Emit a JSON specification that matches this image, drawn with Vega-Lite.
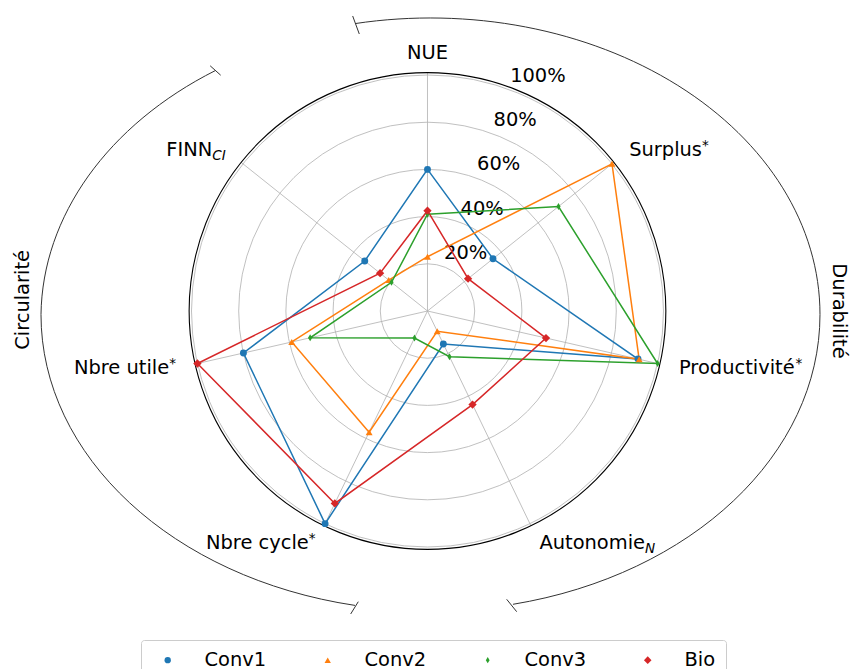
{
  "$schema": "https://vega.github.io/schema/vega-lite/v6.json",
  "width": 850,
  "height": 669,
  "autosize": {"type": "none"},
  "padding": 0,
  "background": "white",
  "config": {"view": {"stroke": null}, "font": "DejaVu Sans"},
  "datasets": {
    "scores": [
      {"series": "Conv1", "axis": "NUE", "value": 60},
      {"series": "Conv1", "axis": "Surplus", "value": 35.5},
      {"series": "Conv1", "axis": "Productivité", "value": 91.5},
      {"series": "Conv1", "axis": "Autonomie", "value": 15.5},
      {"series": "Conv1", "axis": "Nbre cycle", "value": 100},
      {"series": "Conv1", "axis": "Nbre utile", "value": 80},
      {"series": "Conv1", "axis": "FINN", "value": 34},
      {"series": "Conv2", "axis": "NUE", "value": 23},
      {"series": "Conv2", "axis": "Surplus", "value": 100},
      {"series": "Conv2", "axis": "Productivité", "value": 92},
      {"series": "Conv2", "axis": "Autonomie", "value": 9.5},
      {"series": "Conv2", "axis": "Nbre cycle", "value": 57},
      {"series": "Conv2", "axis": "Nbre utile", "value": 59},
      {"series": "Conv2", "axis": "FINN", "value": 21},
      {"series": "Conv3", "axis": "NUE", "value": 41},
      {"series": "Conv3", "axis": "Surplus", "value": 71},
      {"series": "Conv3", "axis": "Productivité", "value": 100},
      {"series": "Conv3", "axis": "Autonomie", "value": 21.5},
      {"series": "Conv3", "axis": "Nbre cycle", "value": 12.7},
      {"series": "Conv3", "axis": "Nbre utile", "value": 51},
      {"series": "Conv3", "axis": "FINN", "value": 19.5},
      {"series": "Bio", "axis": "NUE", "value": 42.5},
      {"series": "Bio", "axis": "Surplus", "value": 22},
      {"series": "Bio", "axis": "Productivité", "value": 51.5},
      {"series": "Bio", "axis": "Autonomie", "value": 44},
      {"series": "Bio", "axis": "Nbre cycle", "value": 90.5},
      {"series": "Bio", "axis": "Nbre utile", "value": 100},
      {"series": "Bio", "axis": "FINN", "value": 25.7}
    ],
    "axes": [
      {"axis": "NUE", "i": 0},
      {"axis": "Surplus", "i": 1},
      {"axis": "Productivité", "i": 2},
      {"axis": "Autonomie", "i": 3},
      {"axis": "Nbre cycle", "i": 4},
      {"axis": "Nbre utile", "i": 5},
      {"axis": "FINN", "i": 6}
    ],
    "rings": [
      {"v": 0.2, "label": "20%"},
      {"v": 0.4, "label": "40%"},
      {"v": 0.6, "label": "60%"},
      {"v": 0.8, "label": "80%"},
      {"v": 1.0, "label": "100%"}
    ]
  },
  "layer": [
    {
      "data": {"name": "rings"},
      "mark": {"type": "point", "shape": "circle", "filled": false, "opacity": 1, "stroke": "#b0b0b0", "strokeWidth": 0.8},
      "encoding": {
        "x": {"datum": 0, "type": "quantitative", "scale": {"domain": [-1.8114, 1.7903], "nice": false, "zero": false}, "axis": null},
        "y": {"datum": 0, "type": "quantitative", "scale": {"domain": [-1.5169, 1.3178], "nice": false, "zero": false}, "axis": null},
        "size": {"field": "v", "type": "quantitative", "scale": {"type": "pow", "exponent": 2, "domain": [0, 1], "range": [0, 222784], "zero": true}, "legend": null}
      }
    },
    {
      "data": {"name": "axes"},
      "transform": [
        {"calculate": "datum.i*2*PI/7", "as": "a"},
        {"calculate": "0", "as": "ox"},
        {"calculate": "1.01*sin(datum.a)", "as": "fx"},
        {"calculate": "1.01*cos(datum.a)", "as": "fy"}
      ],
      "mark": {"type": "rule", "stroke": "#b0b0b0", "strokeWidth": 0.8},
      "encoding": {
        "x": {"field": "ox", "type": "quantitative", "scale": {"domain": [-1.8114, 1.7903], "nice": false, "zero": false}, "axis": null},
        "y": {"field": "ox", "type": "quantitative", "scale": {"domain": [-1.5169, 1.3178], "nice": false, "zero": false}, "axis": null},
        "x2": {"field": "fx"},
        "y2": {"field": "fy"}
      }
    },
    {
      "data": {"name": "rings"},
      "transform": [{"filter": "datum.v == 1"}, {"calculate": "1.01", "as": "fr"}],
      "mark": {"type": "point", "shape": "circle", "filled": false, "opacity": 1, "stroke": "#000000", "strokeWidth": 1.1},
      "encoding": {
        "x": {"datum": 0, "type": "quantitative", "scale": {"domain": [-1.8114, 1.7903], "nice": false, "zero": false}, "axis": null},
        "y": {"datum": 0, "type": "quantitative", "scale": {"domain": [-1.5169, 1.3178], "nice": false, "zero": false}, "axis": null},
        "size": {"field": "fr", "type": "quantitative", "scale": {"type": "pow", "exponent": 2, "domain": [0, 1], "range": [0, 222784], "zero": true}, "legend": null}
      }
    },
    {
      "data": {"name": "rings"},
      "transform": [
        {"calculate": "datum.v*sin(20.5*PI/180)", "as": "lx"},
        {"calculate": "datum.v*cos(20.5*PI/180)", "as": "ly"}
      ],
      "mark": {"type": "text", "align": "left", "baseline": "bottom", "dy": -4, "font": "DejaVu Sans", "fontSize": 19.44, "color": "#000000"},
      "encoding": {
        "x": {"field": "lx", "type": "quantitative", "scale": {"domain": [-1.8114, 1.7903], "nice": false, "zero": false}, "axis": null},
        "y": {"field": "ly", "type": "quantitative", "scale": {"domain": [-1.5169, 1.3178], "nice": false, "zero": false}, "axis": null},
        "text": {"field": "label"}
      }
    },
    {
      "data": {"name": "scores"},
      "transform": [
        {"calculate": "indexof(['NUE','Surplus','Productivité','Autonomie','Nbre cycle','Nbre utile','FINN'], datum.axis)", "as": "i"},
        {"calculate": "datum.i*2*PI/7", "as": "a"},
        {"calculate": "datum.value/100*sin(datum.a)", "as": "px"},
        {"calculate": "datum.value/100*cos(datum.a)", "as": "py"}
      ],
      "mark": {"type": "line", "interpolate": "linear-closed", "strokeWidth": 1.5},
      "encoding": {
        "x": {"field": "px", "type": "quantitative", "scale": {"domain": [-1.8114, 1.7903], "nice": false, "zero": false}, "axis": null},
        "y": {"field": "py", "type": "quantitative", "scale": {"domain": [-1.5169, 1.3178], "nice": false, "zero": false}, "axis": null},
        "color": {"field": "series", "type": "nominal", "scale": {"domain": ["Conv1", "Conv2", "Conv3", "Bio"], "range": ["#1f77b4", "#ff7f0e", "#2ca02c", "#d62728"]}},
        "order": {"field": "i", "type": "quantitative"}
      }
    },
    {
      "data": {"name": "scores"},
      "transform": [
        {"calculate": "indexof(['NUE','Surplus','Productivité','Autonomie','Nbre cycle','Nbre utile','FINN'], datum.axis)", "as": "i"},
        {"calculate": "datum.i*2*PI/7", "as": "a"},
        {"calculate": "datum.value/100*sin(datum.a)", "as": "px"},
        {"calculate": "datum.value/100*cos(datum.a)", "as": "py"}
      ],
      "mark": {"type": "point", "filled": true, "size": 48, "opacity": 1, "strokeWidth": 0},
      "encoding": {
        "x": {"field": "px", "type": "quantitative", "scale": {"domain": [-1.8114, 1.7903], "nice": false, "zero": false}, "axis": null},
        "y": {"field": "py", "type": "quantitative", "scale": {"domain": [-1.5169, 1.3178], "nice": false, "zero": false}, "axis": null},
        "color": {
          "field": "series", "type": "nominal",
          "scale": {"domain": ["Conv1", "Conv2", "Conv3", "Bio"], "range": ["#1f77b4", "#ff7f0e", "#2ca02c", "#d62728"]},
          "legend": {
            "title": null, "orient": "none", "legendX": 141, "legendY": 640, "direction": "horizontal", "columns": 4,
            "columnPadding": 44, "padding": 10, "strokeColor": "#cccccc", "fillColor": "#ffffff", "cornerRadius": 3,
            "labelFont": "DejaVu Sans", "labelFontSize": 19.44, "labelColor": "#000000", "labelOffset": 27,
            "symbolOffset": 7, "symbolSize": 40, "symbolStrokeWidth": 0
          }
        },
        "shape": {
          "field": "series", "type": "nominal",
          "scale": {"domain": ["Conv1", "Conv2", "Conv3", "Bio"], "range": ["circle", "triangle-up", "M0,-1L0.6,0L0,1L-0.6,0Z", "M0,-1.2L1.2,0L0,1.2L-1.2,0Z"]},
          "legend": {"title": null}
        }
      }
    },
    {
      "data": {"name": "axes"},
      "transform": [
        {"calculate": "datum.i*2*PI/7", "as": "a"},
        {"calculate": "1.093*sin(datum.a)", "as": "lx"},
        {"calculate": "1.093*cos(datum.a)", "as": "ly"},
        {"filter": "datum.lx > 0.1"}
      ],
      "mark": {"type": "text", "align": "left", "baseline": "middle", "font": "DejaVu Sans", "fontSize": 19.44, "color": "#000000"},
      "encoding": {
        "x": {"field": "lx", "type": "quantitative", "scale": {"domain": [-1.8114, 1.7903], "nice": false, "zero": false}, "axis": null},
        "y": {"field": "ly", "type": "quantitative", "scale": {"domain": [-1.5169, 1.3178], "nice": false, "zero": false}, "axis": null},
        "text": {"field": "axis"}
      }
    },
    {
      "data": {"name": "axes"},
      "transform": [
        {"calculate": "datum.i*2*PI/7", "as": "a"},
        {"calculate": "1.093*sin(datum.a)", "as": "lx"},
        {"calculate": "1.093*cos(datum.a)", "as": "ly"},
        {"filter": "abs(datum.lx) <= 0.1"}
      ],
      "mark": {"type": "text", "align": "center", "baseline": "middle", "font": "DejaVu Sans", "fontSize": 19.44, "color": "#000000"},
      "encoding": {
        "x": {"field": "lx", "type": "quantitative", "scale": {"domain": [-1.8114, 1.7903], "nice": false, "zero": false}, "axis": null},
        "y": {"field": "ly", "type": "quantitative", "scale": {"domain": [-1.5169, 1.3178], "nice": false, "zero": false}, "axis": null},
        "text": {"field": "axis"}
      }
    },
    {
      "data": {"name": "axes"},
      "transform": [
        {"calculate": "datum.i*2*PI/7", "as": "a"},
        {"calculate": "1.093*sin(datum.a)", "as": "lx"},
        {"calculate": "1.093*cos(datum.a)", "as": "ly"},
        {"filter": "datum.axis == 'Nbre cycle' || datum.axis == 'Nbre utile'"}
      ],
      "mark": {"type": "text", "align": "right", "baseline": "middle", "dx": -6.8, "font": "DejaVu Sans", "fontSize": 19.44, "color": "#000000"},
      "encoding": {
        "x": {"field": "lx", "type": "quantitative", "scale": {"domain": [-1.8114, 1.7903], "nice": false, "zero": false}, "axis": null},
        "y": {"field": "ly", "type": "quantitative", "scale": {"domain": [-1.5169, 1.3178], "nice": false, "zero": false}, "axis": null},
        "text": {"field": "axis"}
      }
    },
    {
      "data": {"name": "axes"},
      "transform": [
        {"calculate": "datum.i*2*PI/7", "as": "a"},
        {"calculate": "1.093*sin(datum.a)", "as": "lx"},
        {"calculate": "1.093*cos(datum.a)", "as": "ly"},
        {"filter": "datum.axis == 'FINN'"}
      ],
      "mark": {"type": "text", "align": "right", "baseline": "middle", "dx": -13.5, "font": "DejaVu Sans", "fontSize": 19.44, "color": "#000000"},
      "encoding": {
        "x": {"field": "lx", "type": "quantitative", "scale": {"domain": [-1.8114, 1.7903], "nice": false, "zero": false}, "axis": null},
        "y": {"field": "ly", "type": "quantitative", "scale": {"domain": [-1.5169, 1.3178], "nice": false, "zero": false}, "axis": null},
        "text": {"field": "axis"}
      }
    },
    {
      "data": {"name": "axes"},
      "transform": [
        {"calculate": "datum.i*2*PI/7", "as": "a"},
        {"calculate": "1.093*sin(datum.a)", "as": "lx"},
        {"calculate": "1.093*cos(datum.a)", "as": "ly"},
        {"filter": "datum.axis == 'FINN'"}
      ],
      "mark": {"type": "text", "text": "CI", "align": "right", "baseline": "middle", "dy": 5.5, "font": "DejaVu Sans", "fontStyle": "italic", "fontSize": 13.6, "color": "#000000"},
      "encoding": {
        "x": {"field": "lx", "type": "quantitative", "scale": {"domain": [-1.8114, 1.7903], "nice": false, "zero": false}, "axis": null},
        "y": {"field": "ly", "type": "quantitative", "scale": {"domain": [-1.5169, 1.3178], "nice": false, "zero": false}, "axis": null}
      }
    },
    {
      "data": {"name": "axes"},
      "transform": [
        {"calculate": "datum.i*2*PI/7", "as": "a"},
        {"calculate": "1.093*sin(datum.a)", "as": "lx"},
        {"calculate": "1.093*cos(datum.a)", "as": "ly"},
        {"filter": "datum.axis == 'Nbre cycle' || datum.axis == 'Nbre utile'"}
      ],
      "mark": {"type": "text", "text": "*", "align": "right", "baseline": "middle", "dy": -4, "font": "DejaVu Sans", "fontSize": 13.6, "color": "#000000"},
      "encoding": {
        "x": {"field": "lx", "type": "quantitative", "scale": {"domain": [-1.8114, 1.7903], "nice": false, "zero": false}, "axis": null},
        "y": {"field": "ly", "type": "quantitative", "scale": {"domain": [-1.5169, 1.3178], "nice": false, "zero": false}, "axis": null}
      }
    },
    {
      "data": {"name": "axes"},
      "transform": [
        {"calculate": "datum.i*2*PI/7", "as": "a"},
        {"calculate": "1.093*sin(datum.a)", "as": "lx"},
        {"calculate": "1.093*cos(datum.a)", "as": "ly"},
        {"filter": "datum.axis == 'Surplus'"}
      ],
      "mark": {"type": "text", "text": "*", "align": "left", "baseline": "middle", "dx": 72.9, "dy": -4, "font": "DejaVu Sans", "fontSize": 13.6, "color": "#000000"},
      "encoding": {
        "x": {"field": "lx", "type": "quantitative", "scale": {"domain": [-1.8114, 1.7903], "nice": false, "zero": false}, "axis": null},
        "y": {"field": "ly", "type": "quantitative", "scale": {"domain": [-1.5169, 1.3178], "nice": false, "zero": false}, "axis": null}
      }
    },
    {
      "data": {"name": "axes"},
      "transform": [
        {"calculate": "datum.i*2*PI/7", "as": "a"},
        {"calculate": "1.093*sin(datum.a)", "as": "lx"},
        {"calculate": "1.093*cos(datum.a)", "as": "ly"},
        {"filter": "datum.axis == 'Productivité'"}
      ],
      "mark": {"type": "text", "text": "*", "align": "left", "baseline": "middle", "dx": 116.5, "dy": -4, "font": "DejaVu Sans", "fontSize": 13.6, "color": "#000000"},
      "encoding": {
        "x": {"field": "lx", "type": "quantitative", "scale": {"domain": [-1.8114, 1.7903], "nice": false, "zero": false}, "axis": null},
        "y": {"field": "ly", "type": "quantitative", "scale": {"domain": [-1.5169, 1.3178], "nice": false, "zero": false}, "axis": null}
      }
    },
    {
      "data": {"name": "axes"},
      "transform": [
        {"calculate": "datum.i*2*PI/7", "as": "a"},
        {"calculate": "1.093*sin(datum.a)", "as": "lx"},
        {"calculate": "1.093*cos(datum.a)", "as": "ly"},
        {"filter": "datum.axis == 'Autonomie'"}
      ],
      "mark": {"type": "text", "text": "N", "align": "left", "baseline": "middle", "dx": 105.7, "dy": 5.5, "font": "DejaVu Sans", "fontStyle": "italic", "fontSize": 13.6, "color": "#000000"},
      "encoding": {
        "x": {"field": "lx", "type": "quantitative", "scale": {"domain": [-1.8114, 1.7903], "nice": false, "zero": false}, "axis": null},
        "y": {"field": "ly", "type": "quantitative", "scale": {"domain": [-1.5169, 1.3178], "nice": false, "zero": false}, "axis": null}
      }
    },
    {
      "data": {"values": [{"name": "brackets"}]},
      "mark": {
        "type": "point", "size": 4, "filled": false, "opacity": 1, "stroke": "#333333", "strokeWidth": 1,
        "shape": "M -75.5 -290.9 A 389.5 296.5 0 0 1 389.5 0 A 389.5 296.5 0 0 1 82.5 289.8 M -77.8 -298.5 L -71.2 -280.5 M 76.2 284.8 L 86.2 297.2 M -75.5 290.9 A 389.5 296.5 0 0 1 -389.5 0 A 389.5 296.5 0 0 1 -215 -244 M -220.3 -248.7 L -209.8 -239.3 M -72.2 287.2 L -79.8 299.5"
      },
      "encoding": {
        "x": {"datum": 0.0127, "type": "quantitative", "scale": {"domain": [-1.8114, 1.7903], "nice": false, "zero": false}, "axis": null},
        "y": {"datum": -0.0148, "type": "quantitative", "scale": {"domain": [-1.5169, 1.3178], "nice": false, "zero": false}, "axis": null}
      }
    },
    {
      "data": {"values": [{"group": "Durabilité"}]},
      "mark": {"type": "text", "angle": 90, "align": "center", "baseline": "middle", "font": "DejaVu Sans", "fontSize": 19.44, "color": "#000000"},
      "encoding": {
        "x": {"datum": 1.742, "type": "quantitative", "scale": {"domain": [-1.8114, 1.7903], "nice": false, "zero": false}, "axis": null},
        "y": {"datum": 0.0, "type": "quantitative", "scale": {"domain": [-1.5169, 1.3178], "nice": false, "zero": false}, "axis": null},
        "text": {"field": "group"}
      }
    },
    {
      "data": {"values": [{"group": "Circularité"}]},
      "mark": {"type": "text", "angle": 270, "align": "center", "baseline": "middle", "font": "DejaVu Sans", "fontSize": 19.44, "color": "#000000"},
      "encoding": {
        "x": {"datum": -1.714, "type": "quantitative", "scale": {"domain": [-1.8114, 1.7903], "nice": false, "zero": false}, "axis": null},
        "y": {"datum": 0.047, "type": "quantitative", "scale": {"domain": [-1.5169, 1.3178], "nice": false, "zero": false}, "axis": null},
        "text": {"field": "group"}
      }
    }
  ]
}
